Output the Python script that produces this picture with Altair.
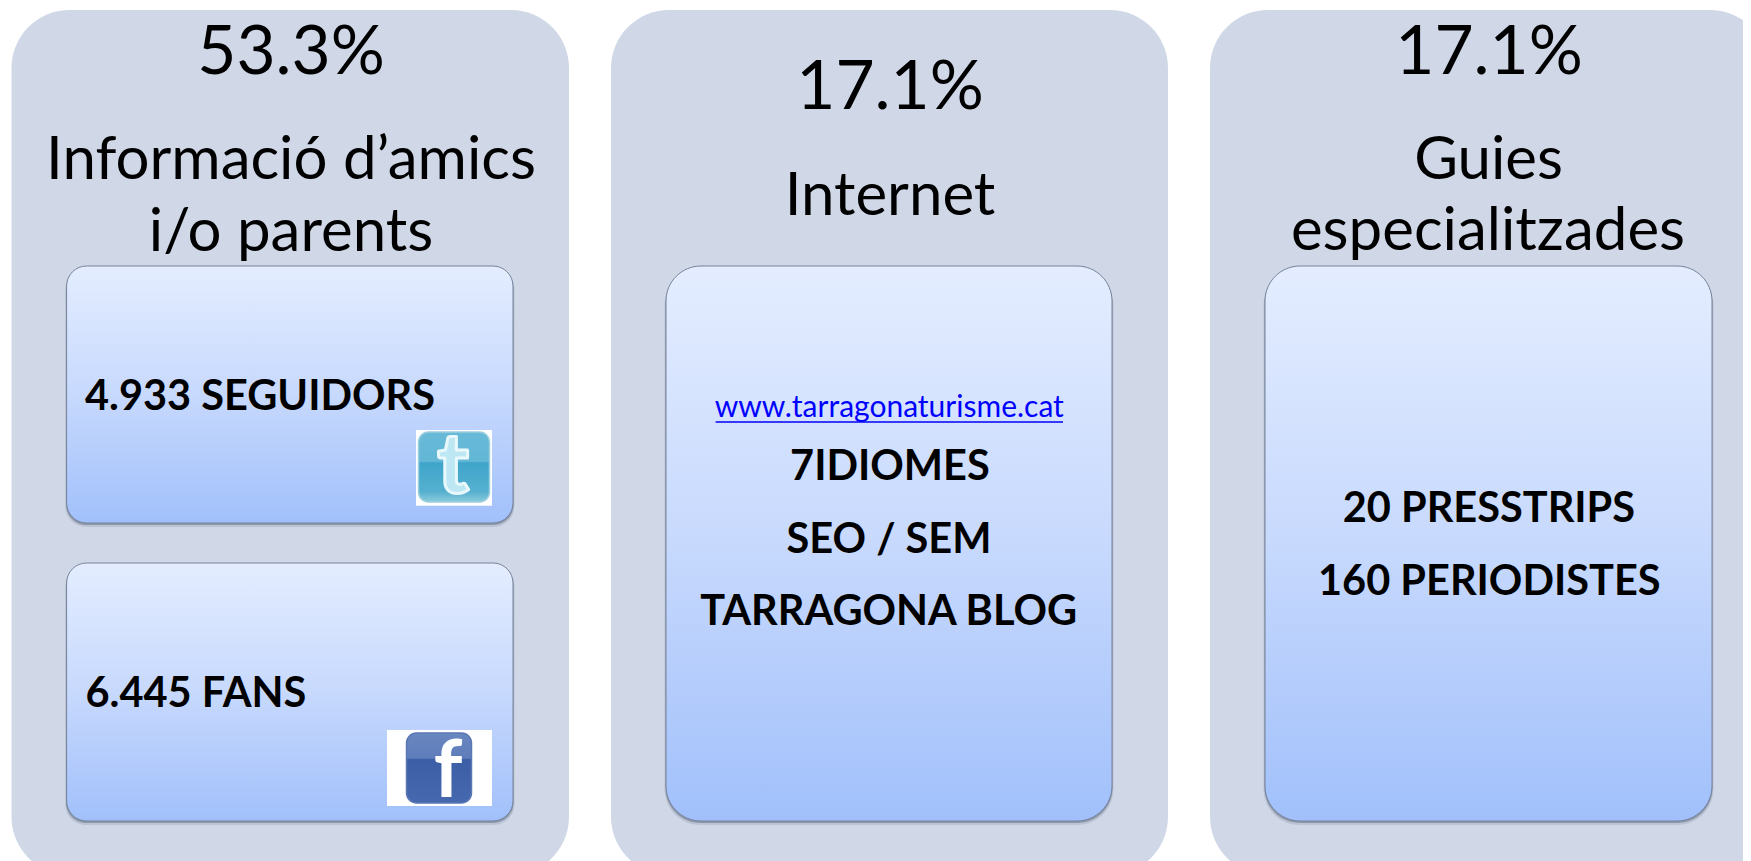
import altair as alt
import pandas as pd

# ---- chart content ----
percents = ["53.3%", "17.1%", "17.1%"]
headings = ["Informació d’amics", "i/o parents", "Internet", "Guies", "especialitzades"]
bold_centered = ["7IDIOMES", "SEO / SEM", "TARRAGONA BLOG", "20 PRESSTRIPS", "160 PERIODISTES"]
bold_left = ["4.933 SEGUIDORS", "6.445 FANS"]
link_text = ["www.tarragonaturisme.cat"]
icon_letters = ["t", "f"]

# ---- page layout (pixels of the 1751x861 page), kept apart from the content ----
PANEL_X = [(11.5, 569), (611, 1168), (1210, 1768)]
PANEL_Y = (10, 875)
BOX_SHORT = [(66.6, 513, 266, 523), (66.6, 513, 563, 821)]
BOX_TALL = [(666, 1112, 266, 821), (1265, 1712, 266, 821)]
PERCENT_POS = [(291, 74), (890, 108.7), (1489, 74)]
HEADING_POS = [(291, 179.4), (291, 250.8), (890, 215), (1488.6, 179.4), (1488, 250)]
BOLD_C_POS = [(889.9, 480.4), (889, 552.9), (888.7, 625.4), (1488.9, 522.2), (1489.3, 595.2)]
BOLD_L_POS = [(85, 410), (85.5, 706.6)]
LINK_POS = (889.3, 417.4)
LINK_RULE = (715.6, 1063, 422)
ICON_BG = [(416, 492, 430, 505.7), (387, 492, 730, 806)]
ICON_TILE = [(418.5, 489.5, 432, 502), (406.5, 733 - 0, 733, 803)]
ICON_TILE[1] = (406.5, 471.5, 733, 803)
ICON_GLYPH = [(453, 493), (448, 797)]

xs = alt.Scale(domain=[8, 1743], nice=False, zero=False)
ys = alt.Scale(domain=[861, 8], nice=False, zero=False)


def rects(items, **mark):
    df = pd.DataFrame(items, columns=["x", "x2", "y", "y2"])
    return alt.Chart(df).mark_rect(**mark).encode(
        x=alt.X("x:Q", scale=xs, axis=None),
        x2="x2:Q",
        y=alt.Y("y:Q", scale=ys, axis=None),
        y2="y2:Q",
    )


def texts(labels, pos, **mark):
    df = pd.DataFrame({"t": labels, "x": [p[0] for p in pos], "y": [p[1] for p in pos]})
    return alt.Chart(df).mark_text(baseline="alphabetic", **mark).encode(
        x=alt.X("x:Q", scale=xs, axis=None),
        y=alt.Y("y:Q", scale=ys, axis=None),
        text="t:N",
    )


def vgrad(*stops):
    return alt.LinearGradient(
        gradient="linear", x1=0, x2=0, y1=0, y2=1,
        stops=[alt.GradientStop(offset=o, color=c) for o, c in stops],
    )


def shifted(items, grow, dy):
    return [(a - grow, b + grow, c + dy, d + dy) for a, b, c, d in items]


box_fill = vgrad((0, "#E4EDFF"), (0.5, "#C7D9FD"), (1, "#A1C0FB"))
SHADOW = "#5F6B80"

panels = rects([(a, b, PANEL_Y[0], PANEL_Y[1]) for a, b in PANEL_X], fill="#D0D8E8", cornerRadius=58)

layers = [
    panels,
    rects(shifted(BOX_SHORT, 1.5, 4), fill=SHADOW, opacity=0.18, cornerRadius=21),
    rects(shifted(BOX_TALL, 1.5, 4), fill=SHADOW, opacity=0.18, cornerRadius=36),
    rects(shifted(BOX_SHORT, 0.5, 2), fill=SHADOW, opacity=0.5, cornerRadius=20),
    rects(shifted(BOX_TALL, 0.5, 2), fill=SHADOW, opacity=0.5, cornerRadius=35),
    rects(BOX_SHORT, fill=box_fill, stroke="#76839A", strokeWidth=1, cornerRadius=20),
    rects(BOX_TALL, fill=box_fill, stroke="#76839A", strokeWidth=1, cornerRadius=35),
    rects(ICON_BG, fill="#FFFFFF"),
    rects(ICON_TILE[:1], fill=vgrad((0, "#68BAD8"), (0.42, "#62B6D6"), (0.44, "#3FA5CB"), (0.85, "#55B0CF"), (1, "#8CCBDC")),
          stroke="#9CCFDD", strokeWidth=1.5, cornerRadius=10),
    rects(ICON_TILE[1:], fill=vgrad((0, "#6A86C0"), (0.36, "#5E7DBA"), (0.38, "#3B5EA6"), (1, "#4668AE")),
          stroke="#5B78B3", strokeWidth=1.5, cornerRadius=10),
    texts(icon_letters[:1], ICON_GLYPH[:1], font="Lato", fontWeight=900, fontSize=84,
          align="center", fill="#BDE8F3", stroke="#E8F8FB", strokeWidth=3, strokeJoin="round"),
    texts(icon_letters[1:], ICON_GLYPH[1:], font="Lato", fontWeight="bold", fontSize=80,
          align="center", fill="#FFFFFF"),
    texts(percents, PERCENT_POS, font="Lato", fontSize=67.5, align="center", fill="#000000"),
    texts(headings, HEADING_POS, font="Lato", fontSize=60, align="center", fill="#000000"),
    texts(bold_centered, BOLD_C_POS, font="Lato", fontWeight="bold", fontSize=41.5, align="center", fill="#000000"),
    texts(bold_left, BOLD_L_POS, font="Lato", fontWeight="bold", fontSize=41.5, align="left", fill="#000000"),
    texts(link_text, [LINK_POS], font="Lato", fontSize=30, align="center", fill="#0000FF"),
    alt.Chart(pd.DataFrame([{"x": LINK_RULE[0], "x2": LINK_RULE[1], "y": LINK_RULE[2]}]))
    .mark_rule(color="#0000FF", strokeWidth=1.5)
    .encode(x=alt.X("x:Q", scale=xs, axis=None), x2="x2:Q", y=alt.Y("y:Q", scale=ys, axis=None)),
]

chart = (
    alt.layer(*layers)
    .properties(width=1735, height=853, padding=0, background="#FFFFFF",
                autosize=alt.AutoSizeParams(type="none"))
    .configure_view(stroke=None)
)
chart.save("out.html", embed_options={"renderer": "svg", "actions": False})
